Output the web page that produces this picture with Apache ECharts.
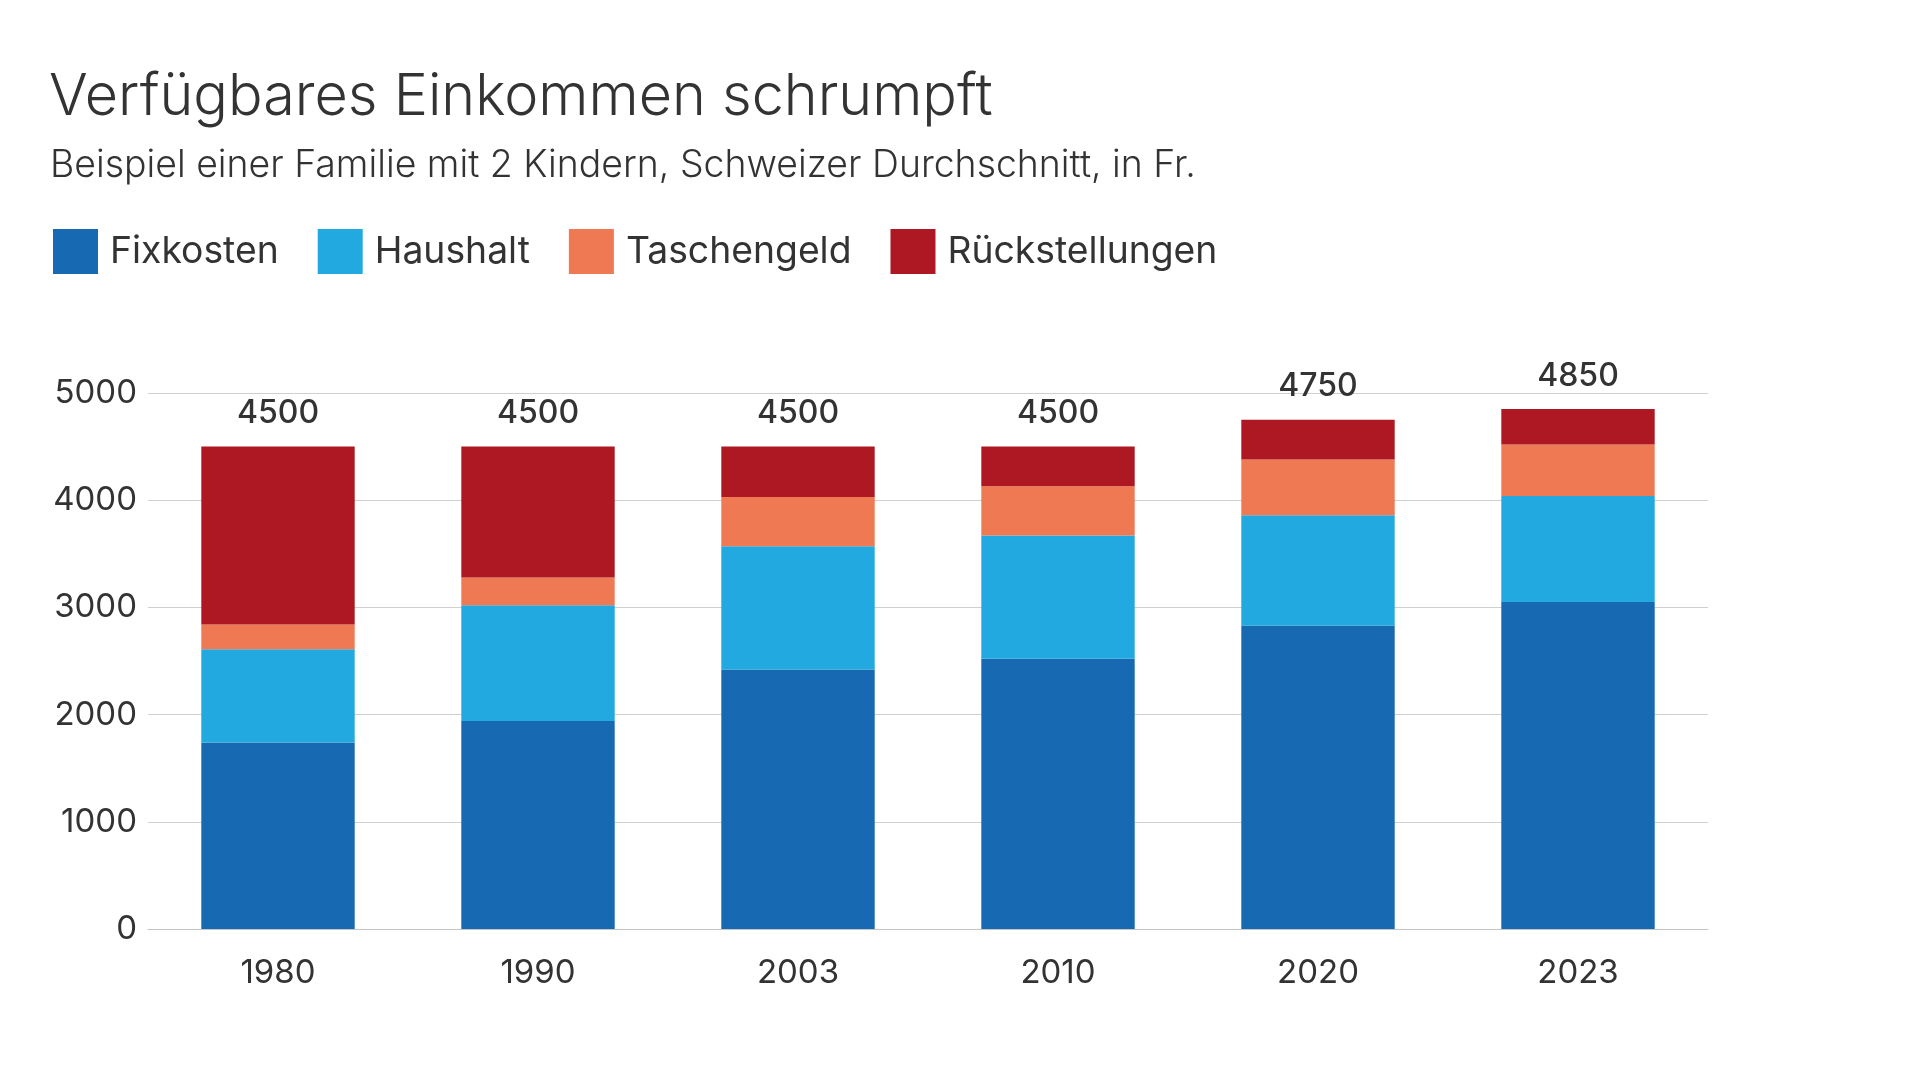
<!DOCTYPE html>
<html>
<head>
<meta charset="utf-8">
<script src="https://cdn.jsdelivr.net/npm/echarts@6/dist/echarts.min.js"></script>
<style>
  html, body { margin: 0; padding: 0; background: #fff; }
  #chart { width: 1920px; height: 1080px; }
</style>
</head>
<body>
<div id="chart"></div>
<script>
const years = ['1980', '1990', '2003', '2010', '2020', '2023'];
const fixkosten = [1740, 1940, 2420, 2520, 2830, 3050];
const haushalt = [870, 1080, 1150, 1150, 1030, 990];
const taschengeld = [230, 260, 460, 460, 520, 480];
const rueckstellungen = [1660, 1220, 470, 370, 370, 330];
const yTicks = [0, 1000, 2000, 3000, 4000, 5000];

const textColor = '#333333';
const font = 'Inter';

const totals = years.map((_, i) =>
  fixkosten[i] + haushalt[i] + taschengeld[i] + rueckstellungen[i]);

function barSeries(name, data, color) {
  return {
    name,
    type: 'bar',
    stack: 'total',
    data,
    barCategoryGap: '41%',
    itemStyle: { color },
    emphasis: { disabled: true },
  };
}

const chart = echarts.init(document.getElementById('chart'), null, { renderer: 'canvas' });

const topSeries = barSeries('Rückstellungen', rueckstellungen, '#ad1823');
topSeries.label = {
  show: true,
  position: 'top',
  distance: 17,
  fontFamily: font,
  fontSize: 32,
  fontWeight: 500,
  color: textColor,
  formatter: p => totals[p.dataIndex],
};

chart.setOption({
  backgroundColor: '#ffffff',
  animation: false,
  textStyle: { fontFamily: font },
  title: [
    {
      text: 'Verfügbares Einkommen schrumpft',
      left: 49,
      top: 69,
      padding: 0,
      textStyle: { fontFamily: font, fontSize: 57.5, fontWeight: 300, color: textColor },
    },
    {
      text: 'Beispiel einer Familie mit 2 Kindern, Schweizer Durchschnitt, in Fr.',
      left: 50,
      top: 147,
      padding: 0,
      textStyle: { fontFamily: font, fontSize: 37.4, fontWeight: 300, color: textColor },
    },
  ],
  legend: {
    left: 53,
    top: 229,
    padding: 0,
    itemWidth: 45,
    itemHeight: 45,
    itemGap: 39,
    icon: 'rect',
    selectedMode: false,
    textStyle: {
      fontFamily: font,
      fontSize: 37.3,
      color: textColor,
      padding: [0, 0, 0, 7],
    },
    data: ['Fixkosten', 'Haushalt', 'Taschengeld', 'Rückstellungen'],
  },
  grid: {
    left: 148,
    right: 212,
    top: 393,
    bottom: 151,
    outerBoundsMode: 'none',
  },
  xAxis: {
    type: 'category',
    data: years,
    axisTick: { show: false },
    axisLine: { lineStyle: { color: '#c4c4c4', width: 1 } },
    axisLabel: {
      margin: 28,
      fontFamily: font,
      fontSize: 33,
      color: textColor,
    },
  },
  yAxis: {
    type: 'value',
    min: yTicks[0],
    max: yTicks[yTicks.length - 1],
    interval: 1000,
    axisLine: { show: false },
    axisTick: { show: false },
    splitLine: { lineStyle: { color: '#d0d0d0', width: 1 } },
    axisLabel: {
      margin: 11,
      fontFamily: font,
      fontSize: 33,
      color: textColor,
      formatter: v => String(v),
    },
  },
  series: [
    barSeries('Fixkosten', fixkosten, '#176ab1'),
    barSeries('Haushalt', haushalt, '#21a9e0'),
    barSeries('Taschengeld', taschengeld, '#ee7952'),
    topSeries,
  ],
});

window.addEventListener('resize', () => chart.resize());
</script>
</body>
</html>
